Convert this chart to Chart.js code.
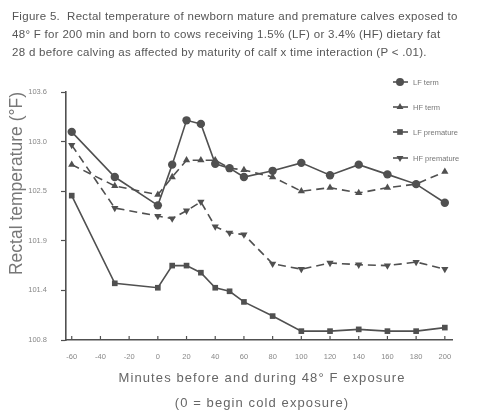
<!DOCTYPE html>
<html>
<head>
<meta charset="utf-8">
<script src="https://cdn.jsdelivr.net/npm/chart.js@4.4.1/dist/chart.umd.min.js"></script>
<style>
  html, body { margin: 0; padding: 0; background: #fff; }
  #wrap { position: relative; width: 478px; height: 413px; overflow: hidden; }
  #caption {
    position: absolute; left: 12px; top: 7px;
    font-family: "Liberation Sans", Arial, sans-serif; font-size: 11.5px;
    letter-spacing: 0.3px; line-height: 18px; color: #555; white-space: nowrap;
  }
  .xtitle {
    position: absolute; left: 0; width: 524px; text-align: center;
    font-family: "Liberation Sans", Arial, sans-serif; font-size: 13px;
    letter-spacing: 1.1px; line-height: 16px; color: #666; white-space: nowrap;
  }
  canvas { position: absolute; left: 0; top: 0; }
</style>
</head>
<body>
<div id="wrap">
  <canvas id="myChart" width="478" height="413"></canvas>
  <div id="caption">Figure 5.&nbsp; Rectal temperature of newborn mature and premature calves exposed to<br>48° F for 200 min and born to cows receiving 1.5% (LF) or 3.4% (HF) dietary fat<br>28 d before calving as affected by maturity of calf x time interaction (P &lt; .01).</div>
  <div class="xtitle" style="top: 370px;">Minutes before and during 48° F exposure</div>
  <div class="xtitle" style="top: 395px;">(0 = begin cold exposure)</div>
</div>
<script>
const minutes = [-60, -30, 0, 10, 20, 30, 40, 50, 60, 80, 100, 120, 140, 160, 180, 200];
const lfTerm = [103.15, 102.64, 102.32, 102.78, 103.28, 103.24, 102.79, 102.74, 102.64, 102.71, 102.8, 102.66, 102.78, 102.67, 102.56, 102.35];
const hfTerm = [102.78, 102.54, 102.44, 102.64, 102.83, 102.83, 102.83, 102.74, 102.72, 102.64, 102.48, 102.52, 102.46, 102.52, 102.56, 102.7];
const lfPremature = [102.43, 101.44, 101.39, 101.64, 101.64, 101.56, 101.39, 101.35, 101.23, 101.07, 100.9, 100.9, 100.92, 100.9, 100.9, 100.94];
const hfPremature = [103.0, 102.29, 102.2, 102.17, 102.26, 102.36, 102.08, 102.01, 101.99, 101.66, 101.6, 101.67, 101.65, 101.64, 101.68, 101.6];

const xTicks = [-60, -40, -20, 0, 20, 40, 60, 80, 100, 120, 140, 160, 180, 200];
const yTickValues = [100.8, 101.36, 101.92, 102.48, 103.04, 103.6];
const yTickLabels = ["100.8", "101.4", "101.9", "102.5", "103.0", "103.6"];
const seriesNames = ["LF term", "HF term", "LF premature", "HF premature"];

const ink = "#505050";
const font = "'Liberation Sans', Arial, sans-serif";
const ctx = document.getElementById("myChart");

const toPoints = (vals) => vals.map((v, i) => ({ x: minutes[i], y: v }));

const makeSet = (label, vals, style, rotation, dashed) => ({
  label: label,
  data: toPoints(vals),
  borderColor: ink,
  backgroundColor: ink,
  borderWidth: 1.6,
  borderDash: dashed ? [8, 5] : [],
  pointStyle: style,
  rotation: rotation,
  pointRadius: style === "rect" ? 4 : 4.2,
  pointBorderWidth: 0,
  tension: 0,
});

// little legend in the upper right, drawn by hand
const legendPlugin = {
  id: "handLegend",
  afterDraw(chart) {
    const c = chart.ctx;
    const rows = [82, 107, 132, 158];
    chart.data.datasets.forEach((ds, i) => {
      const y = rows[i];
      c.save();
      c.strokeStyle = ink;
      c.lineWidth = 1.6;
      c.setLineDash([]);
      c.beginPath();
      c.moveTo(393, y);
      c.lineTo(408, y);
      c.stroke();
      c.fillStyle = ink;
      Chart.helpers.drawPoint(c, { pointStyle: ds.pointStyle, radius: 4, rotation: ds.rotation, borderWidth: 0 }, 400, y);
      c.fillStyle = "#777";
      c.font = "7.5px " + font;
      c.textBaseline = "middle";
      c.fillText(ds.label, 413, y + 0.5);
      c.restore();
    });
  },
};

// x tick marks point into the plot
const innerTicks = {
  id: "innerTicks",
  afterDraw(chart) {
    const xs = chart.scales.x;
    const c = chart.ctx;
    const bottom = chart.chartArea.bottom;
    c.save();
    c.strokeStyle = ink;
    c.lineWidth = 1.2;
    xTicks.forEach((t) => {
      const px = xs.getPixelForValue(t);
      c.beginPath();
      c.moveTo(px, bottom);
      c.lineTo(px, bottom - 4);
      c.stroke();
    });
    c.restore();
  },
};

new Chart(ctx, {
  type: "line",
  data: {
    datasets: [
      makeSet(seriesNames[0], lfTerm, "circle", 0, false),
      makeSet(seriesNames[1], hfTerm, "triangle", 0, true),
      makeSet(seriesNames[2], lfPremature, "rect", 0, false),
      makeSet(seriesNames[3], hfPremature, "triangle", 180, true),
    ],
  },
  options: {
    responsive: false,
    animation: false,
    layout: { padding: { top: 92, right: 26, left: 0, bottom: 0 } },
    plugins: {
      legend: { display: false },
      tooltip: { enabled: false },
    },
    scales: {
      x: {
        type: "linear",
        min: -64,
        max: 205,
        afterFit: (scale) => { scale.height = 73; },
        afterBuildTicks: (scale) => { scale.ticks = xTicks.map((v) => ({ value: v })); },
        grid: { display: true, drawOnChartArea: false, drawTicks: false },
        border: { color: ink, width: 1.6 },
        ticks: {
          padding: 12,
          color: "#888",
          font: { family: font, size: 7.5 },
          maxRotation: 0,
          autoSkip: false,
        },
      },
      y: {
        type: "linear",
        min: 100.8,
        max: 103.6,
        afterFit: (scale) => { scale.width = 66; },
        afterBuildTicks: (scale) => { scale.ticks = yTickValues.map((v) => ({ value: v })); },
        grid: { display: true, drawOnChartArea: false, drawTicks: true, tickLength: 5, color: ink, tickWidth: 1.2 },
        border: { color: ink, width: 1.6 },
        ticks: {
          padding: 14,
          color: "#888",
          font: { family: font, size: 7.5 },
          callback: (v) => yTickLabels[yTickValues.indexOf(v)],
        },
        title: {
          display: true,
          text: "Rectal temperature (°F)",
          align: "end",
          color: "#777",
          font: { family: font, size: 17.5 },
          padding: { top: 7, bottom: 0 },
        },
      },
    },
  },
  plugins: [legendPlugin, innerTicks],
});
</script>
</body>
</html>
